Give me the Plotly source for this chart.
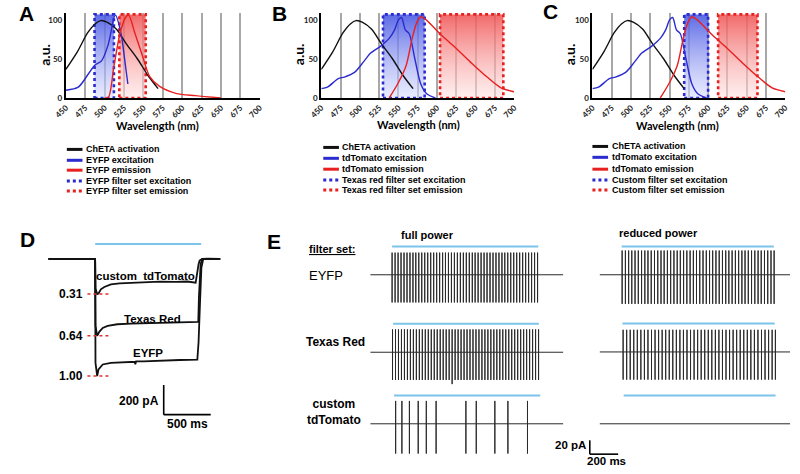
import plotly.graph_objects as go

W, H = 800, 474

# ===================== DATA =====================
# ---- Panels A-C : spectra (wavelength nm, a.u.) ----
wl_ticks = [450, 475, 500, 525, 550, 575, 600, 625, 650, 675, 700]
au_ticks = [0, 50, 100]

cheta_wl = [450, 465, 478, 488, 495, 503, 515, 528, 542, 556, 569]
cheta_act = [37, 60, 84, 96, 100, 98, 89, 70, 51, 29, 12]

eyfp_ex_wl = [450, 466, 479, 487, 496, 504, 508, 512, 514, 521, 527, 530]
eyfp_ex = [10, 14, 31, 42, 48, 67, 84, 104, 107, 84, 41, 18]
eyfp_em_wl = [500, 505, 512, 520, 527, 531, 539, 549, 558, 571, 592, 617, 650]
eyfp_em = [0, 1, 41, 84, 104, 107, 84, 54, 28, 15, 6, 3, 0]

tdtom_ex_wl = [450, 458, 472, 480, 493, 505, 514, 527, 538, 545, 550, 554, 559, 564, 571, 579, 587, 598]
tdtom_ex = [12, 14, 25, 27, 33, 47, 58, 67, 77, 88, 101, 104, 88, 83, 52, 18, 5, 0]
tdtom_em_wl = [538, 550, 560, 568, 574, 579, 586, 595, 608, 625, 645, 665, 683, 700]
tdtom_em = [0, 20, 42, 78, 98, 105, 101, 92, 79, 64, 45, 27, 13, 8]

fluor_names = ["EYFP", "tdTomato", "tdTomato"]
filter_names = ["EYFP", "Texas red", "Custom"]
filter_ex_nm = [[487, 512], [530, 584], [569, 600]]
filter_em_nm = [[519, 553], [604, 686], [613, 664]]

# ---- Panel D : photocurrents (ms, pA) ----
d_names = ["custom\u00a0 tdTomato", "Texas Red", "EYFP"]
d_ratio_text = ["0.31", "0.64", "1.00"]
d_t_custom = [0, 499, 503, 521, 535, 560, 597, 667, 760, 840, 1014, 1187, 1361, 1480, 1569, 1587, 1600, 1611, 1639, 1700, 1833]
d_i_custom = [0, 0, -200, -237, -233, -205, -189, -171, -165, -162, -155, -153, -155, -152, -160, -78, -35, -11, 0, 2, 0]
d_t_texas = [0, 499, 503, 521, 545, 580, 632, 736, 880, 1014, 1200, 1361, 1500, 1597, 1604, 1622, 1640, 1833]
d_i_texas = [0, 0, -450, -518, -489, -465, -451, -440, -436, -433, -431, -429, -426, -424, -255, -33, 0, 0]
d_t_eyfp = [0, 499, 503, 521, 535, 560, 580, 667, 840, 920, 927, 935, 1014, 1187, 1400, 1587, 1600, 1615, 1630, 1650, 1833]
d_i_eyfp = [0, 0, -700, -789, -744, -725, -711, -700, -693, -693, -710, -690, -690, -684, -681, -678, -560, -300, -60, 0, 0]
d_light_ms = [500, 1628]
d_ratio_line_ms = [417, 667]
d_scale_pa, d_scale_ms = 200, 500
d_scale_origin = [1229, -1049]

# ---- Panel E : spike trains (ms, pA) ----
e_row_names = ["EYFP", "Texas Red", "custom<br>tdTomato"]
e_full_eyfp = [154, 175, 196, 217, 238, 259, 280, 301, 321, 342, 363, 384, 405, 426, 447, 468, 489, 510, 530, 551,
               572, 593, 614, 635, 656, 677, 698, 719, 739, 760, 781, 802, 823, 844, 865, 886, 907, 928, 948, 969,
               990, 1011, 1032, 1053, 1074, 1095, 1116, 1137, 1158, 1179]
e_full_texas = [157, 178, 199, 220, 241, 262, 283, 304, 325, 346, 367, 388, 409, 430, 451, 472, 493, 514, 535, 556,
                577, 598, 619, 640, 661, 682, 703, 724, 745, 766, 787, 808, 829, 850, 871, 892, 913, 934, 955, 976,
                997, 1018, 1039, 1060, 1081, 1102, 1123, 1144, 1165, 1186]
e_full_custom = [179, 223, 276, 338, 395, 464, 674, 747, 878, 970, 1108]
e_red_eyfp = [159, 182, 205, 227, 250, 273, 296, 319, 341, 364, 387, 410, 433, 455, 478, 501, 524, 547, 569, 592,
              615, 638, 661, 683, 706, 729, 752, 775, 797, 820, 843, 866, 889, 911, 934, 957, 980, 1003, 1025, 1048,
              1071, 1094, 1117, 1139, 1162, 1185, 1208, 1230]
e_red_texas = [166, 191, 216, 241, 266, 291, 316, 341, 366, 391, 416, 441, 466, 491, 516, 541, 566, 591, 616, 641,
               666, 691, 716, 741, 766, 791, 816, 841, 866, 891, 916, 941, 966, 991, 1016, 1041, 1066, 1091, 1116,
               1141, 1166, 1191, 1216, 1239]
e_red_custom = []
e_spike_up = {"full": [32, 33, 33], "reduced": [35, 32, 0]}
e_spike_down = {"full": [40, 40, 43], "reduced": [42, 40, 0]}
e_deep_spike = {("full", 1): (577, 46)}
e_light_full = [[154, 1184], [161, 1188], [168, 1198]]
e_light_reduced = [[156, 1228], [161, 1234], [170, 1240]]
e_scale_pa, e_scale_ms = 20, 200

# ===================== LAYOUT HELPERS =====================
def fx(px):
    return px / W


def fy(py):
    return 1 - py / H


fig = go.Figure()
layout = {}
shapes = []
annotations = []

ARIAL = "Liberation Sans, Arial, sans-serif"
LATO = "Lato, Liberation Sans, sans-serif"
BLACK = "#111111"
BLUE = "#2b2bd0"
RED = "#e82020"
LIGHT = "#7cc4ea"


def ann(text, x, y, size, xanchor="center", yanchor="middle", bold=True, family=ARIAL, angle=0, color="black"):
    annotations.append(dict(text=text, x=fx(x), y=fy(y), xref="paper", yref="paper", showarrow=False,
                            xanchor=xanchor, yanchor=yanchor, textangle=angle,
                            font=dict(family=family, size=size, color=color, weight="bold" if bold else "normal")))


def axname(i):
    return ("xaxis", "yaxis", "x", "y") if i == 1 else (f"xaxis{i}", f"yaxis{i}", f"x{i}", f"y{i}")


# ===================== PANELS A-C =====================
spec_px = [
    dict(letter="A", x0=54, x1=252, lx=55, ly=[151, 162, 172, 183, 193], let=(14, 14), au=(32, 55), wt=(148, 127)),
    dict(letter="B", x0=315, x1=512, lx=317, ly=[149, 160, 171, 182, 192], let=(272, 14), au=(292, 55), wt=(414, 126)),
    dict(letter="C", x0=592, x1=789, lx=592, ly=[148, 159, 171, 182, 192], let=(549, 12), au=(569, 55), wt=(679, 127)),
]
SPEC_TOP, SPEC_BOT = 13, 99
SPEC_YMAX = 110
FILTER_TOP = 108

ex_data = [(eyfp_ex_wl, eyfp_ex), (tdtom_ex_wl, tdtom_ex), (tdtom_ex_wl, tdtom_ex)]
em_data = [(eyfp_em_wl, eyfp_em), (tdtom_em_wl, tdtom_em), (tdtom_em_wl, tdtom_em)]

for k, p in enumerate(spec_px):
    i = k + 1
    xa, ya, xr, yr = axname(i)
    layout[xa] = dict(domain=[fx(p["x0"]), fx(p["x1"])], range=[450, 700], anchor=yr,
                      tickmode="array", tickvals=wl_ticks, ticktext=[str(v) for v in wl_ticks], tickangle=-45,
                      tickfont=dict(family=LATO, size=8, color="#222", weight="bold"),
                      showgrid=True, gridcolor="#a8a8a8", gridwidth=1.5, showline=True, linecolor="black",
                      linewidth=2, zeroline=False, ticks="", fixedrange=True)
    layout[ya] = dict(domain=[fy(SPEC_BOT), fy(SPEC_TOP)], range=[0, SPEC_YMAX], anchor=xr,
                      tickmode="array", tickvals=au_ticks, ticktext=[str(v) for v in au_ticks],
                      tickfont=dict(family=LATO, size=8, color="#222", weight="bold"),
                      showgrid=False, showline=True, linecolor="black", linewidth=2, zeroline=False, ticks="",
                      fixedrange=True)
    # filter boxes
    for (a, b), col, light, dark in [
        (filter_ex_nm[k], BLUE, "rgba(215,220,255,0.55)", "rgba(70,85,225,0.88)"),
        (filter_em_nm[k], RED, "rgba(255,225,225,0.55)", "rgba(240,85,85,0.88)"),
    ]:
        fig.add_trace(go.Scatter(x=[a, b, b, a, a], y=[0, 0, FILTER_TOP, FILTER_TOP, 0], mode="lines",
                                 fill="toself",
                                 fillgradient=dict(type="vertical", colorscale=[[0, light], [1, dark]]),
                                 line=dict(color=col, width=2.6, dash="dot"), xaxis=xr, yaxis=yr,
                                 showlegend=False, hoverinfo="skip"))
    # spectra
    for (xs, ys), col in [((cheta_wl, cheta_act), BLACK), (ex_data[k], BLUE), (em_data[k], RED)]:
        fig.add_trace(go.Scatter(x=xs, y=ys, mode="lines", line=dict(color=col, width=1.4, shape="spline",
                                                                     smoothing=0.8),
                                 xaxis=xr, yaxis=yr, showlegend=False, hoverinfo="skip"))
    # manual legend
    labels = ["ChETA activation", f"{fluor_names[k]} excitation", f"{fluor_names[k]} emission",
              f"{filter_names[k]} filter set excitation", f"{filter_names[k]} filter set emission"]
    styles = [(BLACK, "solid"), (BLUE, "solid"), (RED, "solid"), (BLUE, "dot"), (RED, "dot")]
    for lab, (col, dash), yy in zip(labels, styles, p["ly"]):
        shapes.append(dict(type="line", xref="paper", yref="paper", x0=fx(p["lx"]), x1=fx(p["lx"] + 16),
                           y0=fy(yy), y1=fy(yy), line=dict(color=col, width=3, dash=dash)))
        ann(lab, p["lx"] + 17.5, yy, 9, xanchor="left")
    ann(p["letter"], p["let"][0], p["let"][1], 21)
    ann("a.u.", p["au"][0], p["au"][1], 14, angle=-90, family=LATO)
    ann("Wavelength (nm)", p["wt"][0], p["wt"][1], 11, family=LATO)

# ===================== PANEL D =====================
D_X0, D_X1, D_TOP, D_BOT = 36, 212, 240, 425
D_PX_PER_MS, D_PX_PER_PA, D_BASE = 0.096, 0.15, 261.7
xa, ya, xr, yr = axname(4)
layout[xa] = dict(domain=[fx(D_X0), fx(D_X1)], range=[0, (D_X1 - D_X0) / D_PX_PER_MS], visible=False,
                  anchor=yr, fixedrange=True)
layout[ya] = dict(domain=[fy(D_BOT), fy(D_TOP)],
                  range=[-(D_BOT - D_BASE) / D_PX_PER_PA, (D_BASE - D_TOP) / D_PX_PER_PA],
                  visible=False, anchor=xr, fixedrange=True)
d_traces = [(d_t_custom, d_i_custom), (d_t_texas, d_i_texas), (d_t_eyfp, d_i_eyfp)]
for ts, cur in d_traces:
    fig.add_trace(go.Scatter(x=ts, y=cur, mode="lines", line=dict(color=BLACK, width=1.8),
                             xaxis=xr, yaxis=yr, showlegend=False, hoverinfo="skip"))
shapes.append(dict(type="line", xref=xr, yref=yr, x0=d_light_ms[0], x1=d_light_ms[1], y0=100, y1=100,
                   line=dict(color=LIGHT, width=2)))
d_label_px = [(135, 279), (143, 322), (138, 357)]
for (ts, cur), name, rt, (lx, ly) in zip(d_traces, d_names, d_ratio_text, d_label_px):
    peak = min(cur)
    shapes.append(dict(type="line", xref=xr, yref=yr, x0=d_ratio_line_ms[0], x1=d_ratio_line_ms[1],
                       y0=peak, y1=peak, line=dict(color="#e03030", width=1.5, dash="dot")))
    ann(rt, 74, D_BASE - peak * D_PX_PER_PA, 12, xanchor="right")
    ann(name, lx, ly, 11.5)
sx, sy = d_scale_origin
shapes.append(dict(type="line", xref=xr, yref=yr, x0=sx, x1=sx, y0=sy, y1=sy + d_scale_pa,
                   line=dict(color="black", width=1.6)))
shapes.append(dict(type="line", xref=xr, yref=yr, x0=sx, x1=sx + d_scale_ms, y0=sy, y1=sy,
                   line=dict(color="black", width=1.6)))
ann(f"{d_scale_pa} pA", 151, 405, 12, xanchor="right")
ann(f"{d_scale_ms} ms", 178, 429, 12)
ann("D", 15, 242, 21)

# ===================== PANEL E =====================
E_PX_PER_MS, E_PX_PER_PA = 0.145, 0.7
E_PA_TOP, E_PA_BOT = 48, -52
E_COLS = {"full": (365, 562.3), "reduced": (599.3, 794)}
E_BASE = {"full": [277.7, 356, 428.3], "reduced": [277.7, 355.7, 428.3]}
e_spikes = {"full": [e_full_eyfp, e_full_texas, e_full_custom],
            "reduced": [e_red_eyfp, e_red_texas, e_red_custom]}
e_light = {"full": e_light_full, "reduced": e_light_reduced}
E_LIGHT_PA = 41

ai = 5
for col in ["full", "reduced"]:
    x0, x1 = E_COLS[col]
    t_end = (x1 - x0) / E_PX_PER_MS
    for r in range(3):
        xa, ya, xr, yr = axname(ai)
        base = E_BASE[col][r]
        layout[xa] = dict(domain=[fx(x0), fx(x1)], range=[0, t_end], visible=False, anchor=yr, fixedrange=True)
        layout[ya] = dict(domain=[fy(base - E_PA_BOT * E_PX_PER_PA), fy(base - E_PA_TOP * E_PX_PER_PA)],
                          range=[E_PA_BOT, E_PA_TOP], visible=False, anchor=xr, fixedrange=True)
        up = e_spike_up[col][r]
        down = e_spike_down[col][r]
        deep = e_deep_spike.get((col, r))
        xs, ys = [0], [0]
        for t in e_spikes[col][r]:
            d = deep[1] if (deep and t == deep[0]) else down
            xs += [t, t, t, t]
            ys += [0, up, -d, 0]
        xs.append(t_end)
        ys.append(0)
        fig.add_trace(go.Scatter(x=xs, y=ys, mode="lines", line=dict(color="#2a2a2a", width=1),
                                 xaxis=xr, yaxis=yr, showlegend=False, hoverinfo="skip"))
        lo, hi = e_light[col][r]
        shapes.append(dict(type="line", xref=xr, yref=yr, x0=lo, x1=hi, y0=E_LIGHT_PA, y1=E_LIGHT_PA,
                           line=dict(color=LIGHT, width=2)))
        ai += 1

# E scale bar (paper coordinates from the E scale)
SB_X, SB_Y = 589.3, 459
shapes.append(dict(type="line", xref="paper", yref="paper", x0=fx(SB_X), x1=fx(SB_X),
                   y0=fy(SB_Y), y1=fy(SB_Y - e_scale_pa * E_PX_PER_PA), line=dict(color="black", width=1.6)))
shapes.append(dict(type="line", xref="paper", yref="paper", x0=fx(SB_X), x1=fx(SB_X + e_scale_ms * E_PX_PER_MS),
                   y0=fy(SB_Y), y1=fy(SB_Y), line=dict(color="black", width=1.6)))
ann(f"{e_scale_pa} pA", 587, 450, 11.5, xanchor="right")
ann(f"{e_scale_ms} ms", 606, 466, 11.5)

ann("E", 267, 244, 21)
ann("<u>filter set:</u>", 300, 252, 11, xanchor="left")
ann("full power", 423, 237, 11)
ann("reduced power", 660, 235, 11)
ann(e_row_names[0], 300, 278, 13, xanchor="left", bold=False)
ann(e_row_names[1], 297, 346, 12, xanchor="left")
ann(e_row_names[2], 298, 416, 12, xanchor="left")

fig.update_layout(width=W, height=H, margin=dict(l=0, r=0, t=0, b=0), paper_bgcolor="white",
                  plot_bgcolor="rgba(0,0,0,0)", showlegend=False, shapes=shapes, annotations=annotations,
                  font=dict(family=ARIAL), **layout)

fig.write_html("out.html", config={"displayModeBar": False},
               post_script="document.body.style.margin='0';document.body.style.overflow='hidden';")
